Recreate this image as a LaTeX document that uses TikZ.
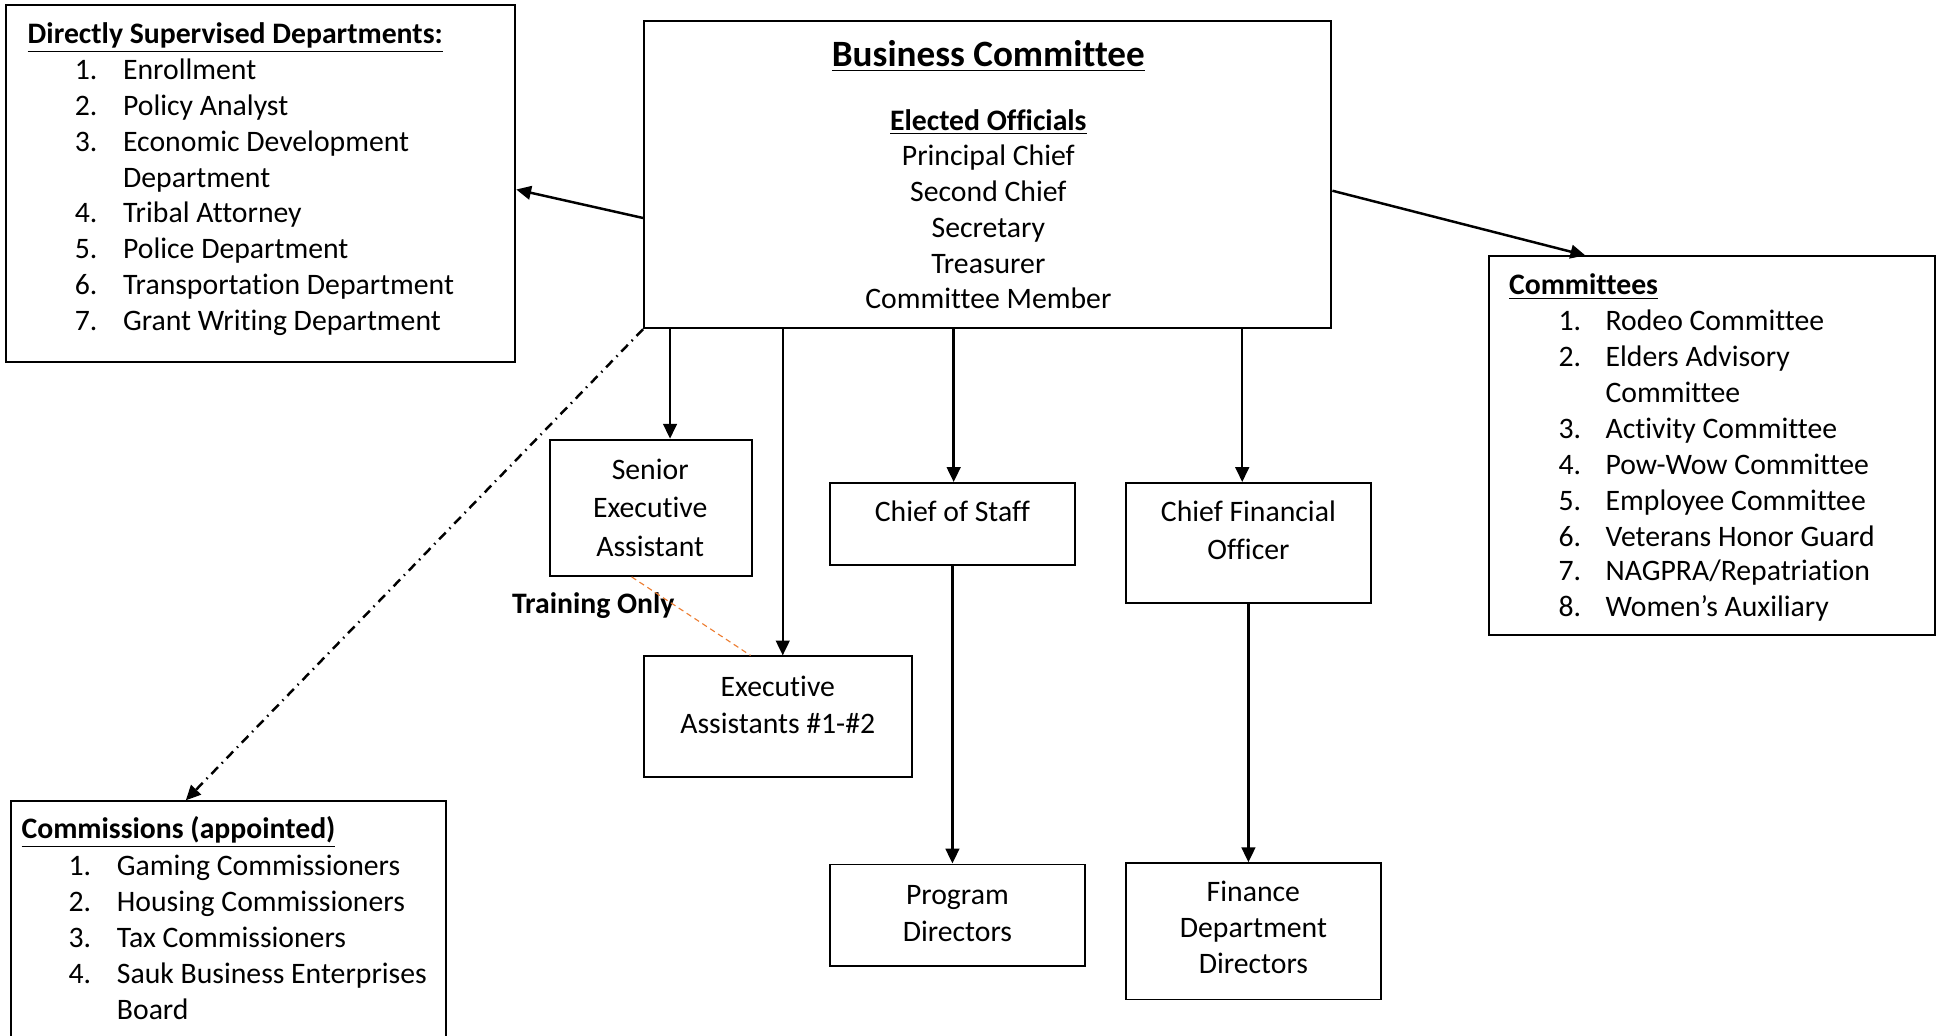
\documentclass[tikz,border=0pt]{standalone}
\usepackage{fontspec}
\setmainfont{Carlito}[Ligatures=NoCommon]
\usetikzlibrary{arrows.meta,calc}
\definecolor{orangeline}{HTML}{ED7D31}
\begin{document}
\begin{tikzpicture}[x=0.5pt,y=-0.5pt,
  box/.style={draw, line width=0.8pt, inner sep=0pt},
  txt/.style={inner sep=0pt, anchor=base west, yshift=-1pt, font=\fontsize{12}{14.5}\selectfont},
  ctr/.style={inner sep=0pt, anchor=base, yshift=-1pt, font=\fontsize{12}{14.5}\selectfont},
  arr/.style={line width=1pt, -{Triangle[length=6pt,width=5.5pt]}},
  dashdot/.style={line width=1pt, dash pattern=on 3.8pt off 2.2pt on 0.6pt off 2.2pt, -{Triangle[length=6pt,width=5.5pt]}},
  training/.style={draw=orangeline, line width=0.45pt, dash pattern=on 2.2pt off 1.6pt},
]
\clip (0,0) rectangle (1568,836);
\fill[white] (0,0) rectangle (1568,836);

% ---------- boxes ----------
\node[box, minimum width=205.5pt, minimum height=144pt] (dsd) at (210.5,148) {};
\node[box, minimum width=277.5pt, minimum height=124pt] (bc) at (797.5,141) {};
\node[box, minimum width=180pt, minimum height=153pt] (com) at (1382,360) {};
\node[box, minimum width=81.5pt, minimum height=55pt] (sea) at (525.5,410) {};
\node[box, minimum width=99pt, minimum height=33pt] (cos) at (769,423) {};
\node[box, minimum width=99pt, minimum height=48.5pt] (cfo) at (1008,438.5) {};
\node[box, minimum width=108pt, minimum height=48.5pt] (ea) at (628,578.5) {};
\node[box, minimum width=103pt, minimum height=41pt] (pd) at (773,739) {};
\node[box, minimum width=103pt, minimum height=55pt] (fdd) at (1012,752) {};
\node[box, minimum width=175.5pt, minimum height=103pt] (cms) at (184.5,750) {};

% ---------- Directly supervised departments ----------
\node[txt] (dsdt) at (22,33) {\bfseries\underline{Directly Supervised Departments:}};
\foreach \n/\y/\t in {1./62/Enrollment, 2./91/Policy Analyst, 3./120/Economic Development, /149/Department, 4./178/Tribal Attorney, 5./207/Police Department, 6./236/Transportation Department, 7./265/Grant Writing Department}{
  \node[txt] (dsdn\y) at (60,\y) {\n};
  \node[txt] (dsdi\y) at (99,\y) {\t};
}

% ---------- Business committee ----------
\node[ctr, font=\fontsize{15}{18}\selectfont\bfseries] (bct) at (798,52) {\underline{Business Committee}};
\node[ctr] (bce) at (798,103) {\bfseries\underline{Elected Officials}};
\foreach \y/\t in {132/Principal Chief, 161/Second Chief, 190/Secretary, 219/Treasurer, 247/Committee Member}{
  \node[ctr] (bco\y) at (798,\y) {\t};
}

% ---------- Committees ----------
\node[txt] (comt) at (1218,236) {\bfseries\underline{Committees}};
\foreach \n/\y/\t in {1./265/{Rodeo Committee}, 2./294/{Elders Advisory}, /323/{Committee}, 3./352/{Activity Committee}, 4./381/{Pow-Wow Committee}, 5./410/{Employee Committee}, 6./439/{Veterans Honor Guard}, 7./467/{NAGPRA/Repatriation}, 8./496/{Women’s Auxiliary}}{
  \node[txt] (comn\y) at (1258,\y) {\n};
  \node[txt] (comi\y) at (1296,\y) {\t};
}

% ---------- Commissions ----------
\node[txt] (cmst) at (17,675) {\bfseries\underline{Commissions (appointed)}};
\foreach \n/\y/\t in {1./705/Gaming Commissioners, 2./734/Housing Commissioners, 3./763/Tax Commissioners, 4./792/Sauk Business Enterprises, /821/Board}{
  \node[txt] (cmsn\y) at (55,\y) {\n};
  \node[txt] (cmsi\y) at (94,\y) {\t};
}

% ---------- small boxes text ----------
\node[ctr] (sea1) at (525,385) {Senior};
\node[ctr] (sea2) at (525,416) {Executive};
\node[ctr] (sea3) at (525,447) {Assistant};
\node[ctr] (cos1) at (769,419) {Chief of Staff};
\node[ctr] (cfo1) at (1008,419) {Chief Financial};
\node[ctr] (cfo2) at (1008,450) {Officer};
\node[ctr] (ea1) at (628,560) {Executive};
\node[ctr] (ea2) at (628,590) {Assistants \#1-\#2};
\node[ctr] (pd1) at (773,728) {Program};
\node[ctr] (pd2) at (773,758) {Directors};
\node[ctr] (fdd1) at (1012,726) {Finance};
\node[ctr] (fdd2) at (1012,755) {Department};
\node[ctr] (fdd3) at (1012,784) {Directors};
\node[txt] (train) at (413,493) {\bfseries Training Only};

% ---------- connectors ----------
\coordinate (bcL) at ($(bc.west)+(0,35)$);
\coordinate (dsdR) at ($(dsd.east)+(0,5)$);
\coordinate (bcR) at ($(bc.east)+(0,13)$);
\coordinate (comT) at ($(com.north)+(-102,0)$);
\coordinate (seaT) at ($(sea.north)+(15.5,0)$);
\coordinate (eaT) at ($(ea.north)+(4,0)$);
\coordinate (cosT) at ($(cos.north)+(1,0)$);
\coordinate (cfoT) at ($(cfo.north)+(-5,0)$);
\coordinate (cmsT) at ($(cms.north)+(-34.5,0)$);
\coordinate (seaB) at ($(sea.south)+(-15.5,0)$);
\coordinate (eaT2) at ($(ea.north)+(-22,0)$);

\draw[arr] (bcL) -- (dsdR);
\draw[arr] (bcR) -- (comT);
\draw[arr] (bc.south -| seaT) -- (seaT);
\draw[arr] (bc.south -| eaT) -- (eaT);
\draw[arr] (bc.south -| cosT) -- (cosT);
\draw[arr] (bc.south -| cfoT) -- (cfoT);
\draw[arr] (cos.south) -- (pd.north -| cos.south);
\draw[arr] (cfo.south) -- (fdd.north -| cfo.south);
\draw[dashdot] (bc.south west) -- (cmsT);
\draw[training] (seaB) -- (eaT2);
\end{tikzpicture}
\end{document}
